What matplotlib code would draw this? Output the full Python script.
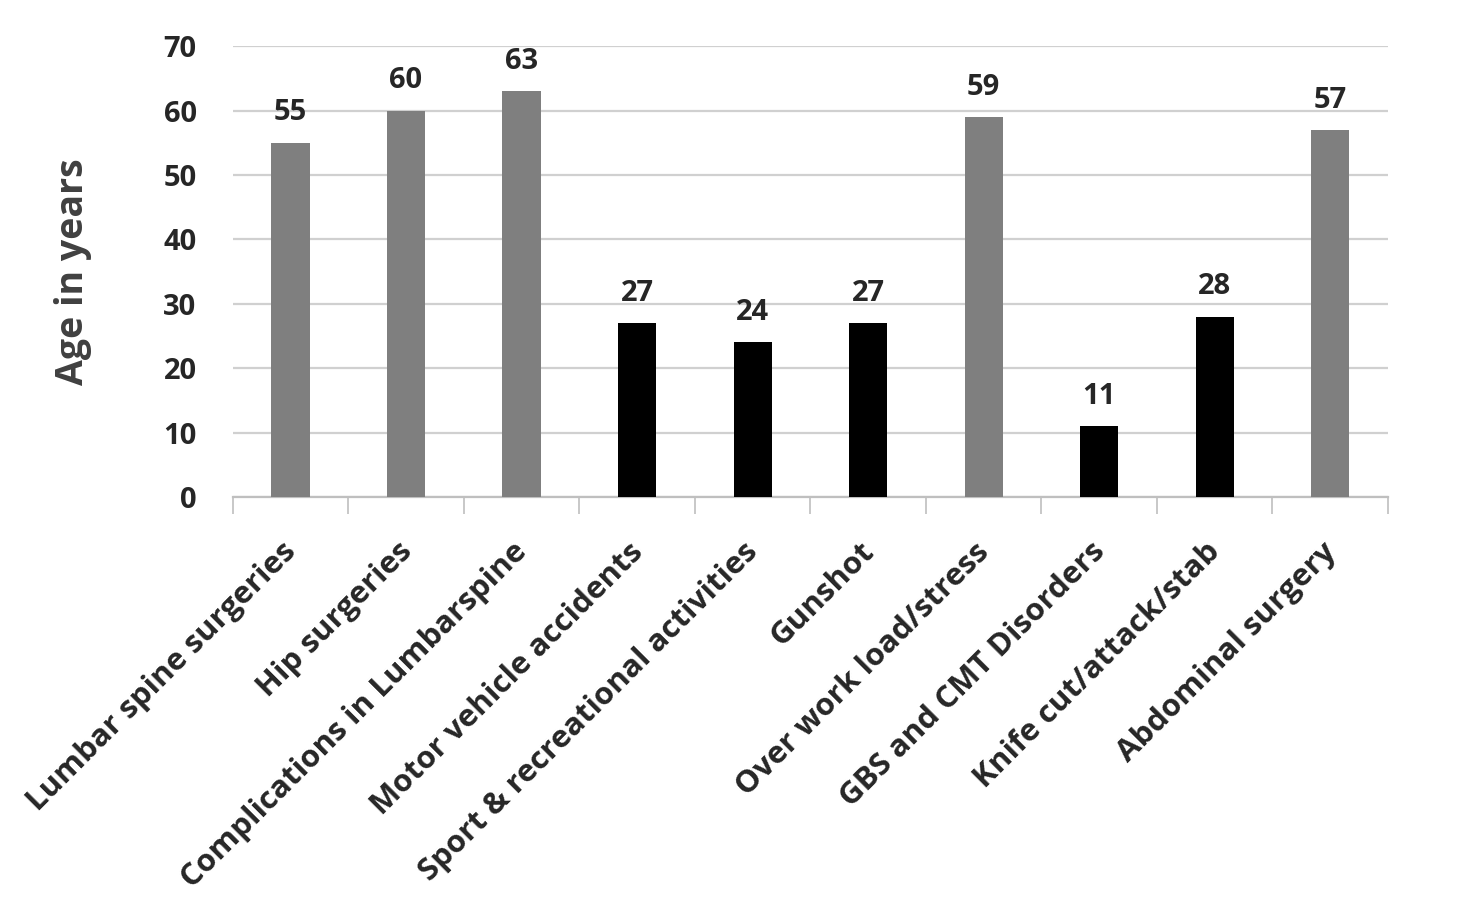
import matplotlib
matplotlib.use('Agg')
import matplotlib.pyplot as plt
import numpy as np

# chart data
categories = ['Lumbar spine surgeries', 'Hip surgeries', 'Complications in Lumbarspine',
              'Motor vehicle accidents', 'Sport & recreational activities', 'Gunshot',
              'Over work load/stress', 'GBS and CMT Disorders', 'Knife cut/attack/stab',
              'Abdominal surgery']
ages = [55, 60, 63, 27, 24, 27, 59, 11, 28, 57]
is_dark = [False, False, False, True, True, True, False, True, True, False]
y_ticks = [0, 10, 20, 30, 40, 50, 60, 70]

plt.rcParams['font.family'] = ['Open Sans', 'DejaVu Sans']

fig = plt.figure(figsize=(14.64, 9.10), dpi=100)
ax = fig.add_axes([0.159, 0.454, 0.789, 0.495])

x = np.arange(len(categories))
colors = ['#000000' if d else '#7f7f7f' for d in is_dark]
ax.bar(x, ages, width=0.33, color=colors, zorder=3)

for xi, v in zip(x, ages):
    ax.text(xi, v + 2.4, str(v), ha='center', va='bottom', fontsize=21,
            fontweight='bold', color='#262626')

ax.set_xlim(-0.5, len(categories) - 0.5)
ax.set_ylim(0, 70)
ax.set_yticks(y_ticks)
ax.set_yticklabels([str(t) for t in y_ticks], fontsize=21, fontweight='bold', color='#262626')
ax.grid(axis='y', color='#d0d0d0', linewidth=1.6, zorder=0)

# category boundary ticks on the x axis
ax.set_xticks(np.arange(len(categories) + 1) - 0.5)
ax.set_xticklabels([])
ax.tick_params(axis='x', length=12, width=1.2, color='#bfbfbf')
ax.tick_params(axis='y', length=0, pad=26)
for xi, lab in zip(x, categories):
    ax.text(xi - 0.08, -6.2, lab, rotation=45, ha='right', va='top', rotation_mode='anchor',
            fontsize=22.5, fontweight='bold', color='#262626')

for s in ['top', 'right', 'left']:
    ax.spines[s].set_visible(False)
ax.spines['bottom'].set_color('#bfbfbf')
ax.spines['bottom'].set_linewidth(1.6)

ax.set_ylabel('Age in years', fontsize=27, fontweight='bold', color='#404040')
ax.yaxis.set_label_coords(-0.122, 0.5)

fig.savefig('out.png', dpi=100, facecolor='white')
